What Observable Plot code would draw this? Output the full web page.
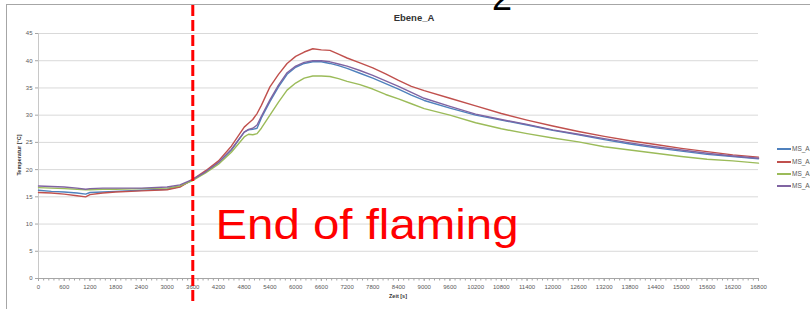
<!DOCTYPE html>
<html><head><meta charset="utf-8">
<script src="https://cdn.jsdelivr.net/npm/d3@7"></script>
<script src="https://cdn.jsdelivr.net/npm/@observablehq/plot@0.6"></script>
<style>
body{margin:0;background:#fff;}
#wrap{position:relative;width:810px;height:309px;overflow:hidden;background:#fff;font-family:"Liberation Sans",Arial,sans-serif;}
.abs{position:absolute;white-space:nowrap;}
#frame{position:absolute;left:6px;top:4px;width:820px;height:320px;border-top:1px solid #a6a6a6;border-left:1px solid #a6a6a6;}
.lg{position:absolute;left:777px;font-size:6.5px;color:#595959;line-height:8px;white-space:nowrap;}
.lg span{display:inline-block;width:14px;height:2px;vertical-align:middle;margin-right:1px;}
</style></head><body><div id="wrap"><div id="frame"></div></div>
<script>
// time axis (s)
const times = [0,300,600,900,1100,1200,1500,1800,2400,3000,3300,3600,3900,4200,4500,4800,4900,5000,5100,5200,5400,5600,5800,6000,6200,6400,6600,6800,7000,7200,7500,7800,8100,8400,8700,9000,9600,10200,10800,11400,12000,12600,13200,13800,14400,15000,15600,16200,16800];
const msA1 = [16.2,16.0,15.9,15.7,15.5,15.8,15.9,16.0,16.2,16.4,16.9,18.1,19.6,21.3,23.6,26.9,27.3,27.4,27.6,29.5,32.5,35.2,37.5,38.8,39.5,39.8,39.8,39.5,39.1,38.6,37.7,36.8,35.8,34.8,33.7,32.7,31.3,30.0,29.1,28.2,27.2,26.4,25.5,24.7,24.0,23.4,22.8,22.4,22.0];
const msA2 = [15.8,15.7,15.5,15.2,15.0,15.4,15.7,15.9,16.1,16.3,16.8,18.2,19.8,21.6,24.3,27.8,28.5,29.2,30.3,31.8,35.2,37.5,39.5,40.8,41.6,42.2,42.0,41.9,41.2,40.5,39.6,38.7,37.6,36.4,35.3,34.5,33.1,31.7,30.3,29.1,28.0,27.0,26.1,25.3,24.6,23.9,23.3,22.7,22.3];
const msA3 = [16.7,16.6,16.5,16.4,16.3,16.3,16.4,16.4,16.5,16.6,17.0,18.0,19.4,21.0,23.2,26.0,26.5,26.4,26.6,27.6,30.0,32.4,34.6,35.9,36.8,37.2,37.2,37.1,36.7,36.2,35.6,34.8,33.8,33.0,32.1,31.2,30.0,28.6,27.5,26.6,25.8,25.1,24.2,23.6,23.0,22.4,21.9,21.6,21.2];
const msA4 = [17.0,16.9,16.8,16.6,16.4,16.5,16.6,16.6,16.6,16.8,17.2,18.2,19.6,21.3,23.7,26.9,27.4,27.6,28.2,29.8,32.8,35.5,37.8,39.0,39.7,40.0,40.0,39.8,39.4,39.0,38.2,37.3,36.3,35.3,34.2,33.1,31.6,30.2,29.2,28.3,27.3,26.5,25.7,24.9,24.2,23.6,23.0,22.5,22.1];
const seriesNames = ["MS_A1","MS_A2","MS_A3","MS_A4"];
const seriesColors = ["#4F81BD","#C0504D","#9BBB59","#8064A2"];
const xTicks = d3.range(0, 16801, 600);
const xMinorTicks = d3.range(0, 16801, 120);
const yTicks = d3.range(0, 46, 5);
const flameEnd = 3600;
const flameLabel = "End of flaming";
const flameLabelX = 4130;
const flameLabelY = 7.28;
const chartTitle = "Ebene_A";
const xTitle = "Zeit [s]";
const yTitle = "Temperatur [°C]";

const seriesValues = [msA1, msA2, msA3, msA4];
const rows = seriesValues.flatMap((vals, s) => times.map((t, i) => ({t, v: vals[i], s: seriesNames[s]})));

const font = "'Liberation Sans', Arial, sans-serif";
const plot = Plot.plot({
  width: 810, height: 309,
  marginLeft: 38, marginRight: 52, marginTop: 33, marginBottom: 31,
  style: {fontFamily: font, background: "transparent", overflow: "visible"},
  x: {domain: [0, 16800]},
  y: {domain: [0, 45]},
  color: {domain: seriesNames, range: seriesColors},
  marks: [
    Plot.gridY(yTicks, {stroke: "#d9d9d9", strokeOpacity: 1}),
    Plot.ruleX([0], {stroke: "#c8c8c8"}),
    Plot.ruleY([0], {stroke: "#a6a6a6"}),
    Plot.axisX({ticks: xMinorTicks, tickSize: 2.5, tickFormat: () => "", stroke: "#a6a6a6", label: null}),
    Plot.axisX({ticks: xTicks, tickSize: 3, tickPadding: 3, tickFormat: d => String(d), fontSize: 6, fill: "#595959", stroke: "#a6a6a6", label: null}),
    Plot.axisY({ticks: yTicks, tickSize: 3, tickPadding: 3, fontSize: 6, fill: "#595959", stroke: "#a6a6a6", label: null}),
    ...seriesNames.map(name => Plot.lineY(rows.filter(r => r.s === name), {x: "t", y: "v", stroke: "s", strokeWidth: 1.4})),
    Plot.ruleX([flameEnd], {stroke: "#ff0000", strokeWidth: 3, strokeDasharray: "11,4", insetTop: -28, insetBottom: -24}),
    Plot.text([flameLabel], {x: flameLabelX, y: flameLabelY, text: d => d, textAnchor: "start", lineAnchor: "bottom", fontSize: 42, fill: "#ff0000", fontFamily: font})
  ]
});
const wrap = document.getElementById("wrap");
plot.style.position = "absolute"; plot.style.left = "0"; plot.style.top = "0";
wrap.appendChild(plot);
// stretch annotation to match
d3.select(plot).selectAll("text").filter(function(){return this.textContent === flameLabel;})
  .attr("textLength", 303).attr("lengthAdjust", "spacingAndGlyphs");

function addDiv(html, css) {
  const d = document.createElement("div");
  d.className = "abs"; d.innerHTML = html; d.style.cssText += css; wrap.appendChild(d); return d;
}
addDiv(chartTitle, "left:414px;top:12px;transform:translateX(-50%);font-size:9.5px;font-weight:bold;color:#333;line-height:11px;");
addDiv(xTitle, "left:398px;top:293px;transform:translateX(-50%);font-size:5.5px;font-weight:bold;color:#333;line-height:7px;");
addDiv(yTitle, "left:19px;top:155px;transform:translate(-50%,-50%) rotate(-90deg);font-size:5.5px;font-weight:bold;color:#333;line-height:7px;");
addDiv("2", "left:492px;top:-20.5px;font-size:36px;line-height:36px;color:#000;");
const legendTops = [149, 161.5, 173.5, 185.5];
seriesNames.forEach((n, i) => {
  const d = document.createElement("div");
  d.className = "lg";
  d.style.top = (legendTops[i] - 4) + "px";
  d.innerHTML = `<span style="background:${seriesColors[i]}"></span>${n}`;
  wrap.appendChild(d);
});
</script></body></html>
